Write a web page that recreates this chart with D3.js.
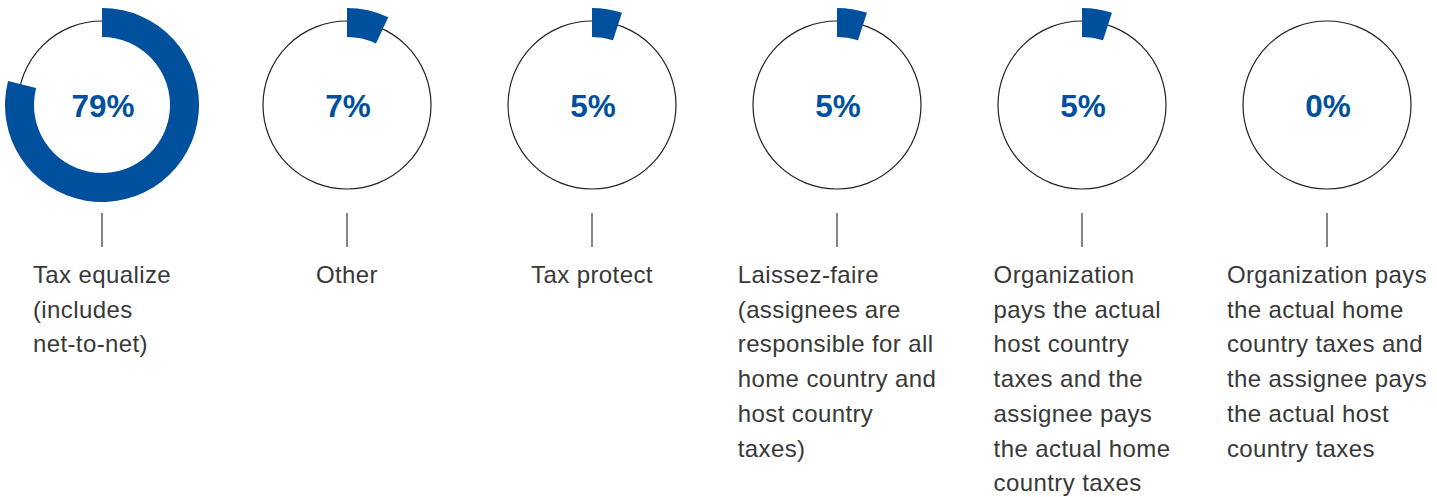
<!DOCTYPE html>
<html>
<head>
<meta charset="utf-8">
<script src="https://cdn.jsdelivr.net/npm/d3@7"></script>
<style>
  html, body { margin: 0; padding: 0; background: #ffffff; }
  svg { display: block; }
</style>
</head>
<body>
<svg id="chart" width="1437" height="497"></svg>
<script>
// ---- data ----
const categories = [
  "Tax equalize",
  "Other",
  "Tax protect",
  "Laissez-faire",
  "Organization pays host",
  "Organization pays home"
];
const values = [79, 7, 5, 5, 5, 0];
const labelLines = [
  ["Tax equalize", "(includes", "net-to-net)"],
  ["Other"],
  ["Tax protect"],
  ["Laissez-faire", "(assignees are", "responsible for all", "home country and", "host country", "taxes)"],
  ["Organization", "pays the actual", "host country", "taxes and the", "assignee pays", "the actual home", "country taxes"],
  ["Organization pays", "the actual home", "country taxes and", "the assignee pays", "the actual host", "country taxes"]
];

// ---- layout ----
const blue = "#00509d";
const textColor = "#383838";
const cy = 105;
const rRing = 84, rOuter = 97, rInner = 68;

const svg = d3.select("#chart");

const x = d3.scalePoint()
  .domain(categories)
  .range([102, 1327]);

const angle = d3.scaleLinear().domain([0, 100]).range([0, 2 * Math.PI]);

const arc = d3.arc()
  .innerRadius(rInner)
  .outerRadius(rOuter)
  .startAngle(0)
  .endAngle(d => angle(d));

const g = svg.selectAll("g.donut")
  .data(categories.map((c, i) => ({ c, v: values[i], lines: labelLines[i] })))
  .join("g")
  .attr("class", "donut")
  .attr("transform", d => `translate(${x(d.c)},${cy})`);

g.append("circle")
  .attr("r", rRing)
  .attr("fill", "none")
  .attr("stroke", "#222")
  .attr("stroke-width", 1.2);

g.filter(d => d.v > 0)
  .append("path")
  .attr("d", d => arc(d.v))
  .attr("fill", blue);

g.append("text")
  .attr("text-anchor", "middle")
  .attr("x", 1)
  .attr("y", 12)
  .attr("font-family", "'Liberation Sans', Arial, sans-serif")
  .attr("font-weight", "bold")
  .attr("font-size", 31.5)
  .attr("fill", blue)
  .text(d => d.v + "%");

g.append("line")
  .attr("x1", 0).attr("x2", 0)
  .attr("y1", 213 - cy).attr("y2", 247 - cy)
  .attr("stroke", "#333")
  .attr("stroke-width", 1.2);

g.each(function(d) {
  const grp = d3.select(this);
  const t = grp.append("text")
    .attr("font-family", "'Liberation Sans', Arial, sans-serif")
    .attr("font-size", 24)
    .attr("letter-spacing", 0.4)
    .attr("fill", textColor);
  d.lines.forEach((ln, j) => {
    t.append("tspan")
      .attr("x", 0)
      .attr("y", 283 - cy + j * 34.7)
      .text(ln);
  });
  let maxW = 0;
  t.selectAll("tspan").each(function() {
    maxW = Math.max(maxW, this.getComputedTextLength());
  });
  t.selectAll("tspan").attr("x", -maxW / 2);
});
</script>
</body>
</html>
